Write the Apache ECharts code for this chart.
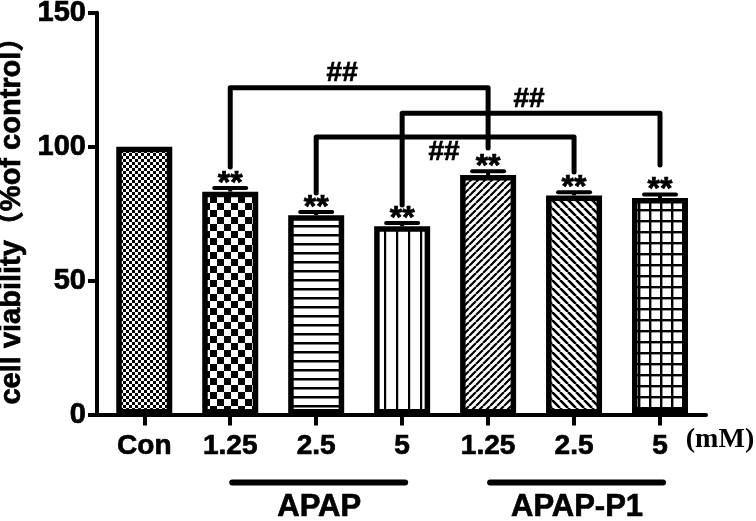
<!DOCTYPE html>
<html><head><meta charset="utf-8">
<script src="https://cdn.jsdelivr.net/npm/echarts@6/dist/echarts.min.js"></script>
<style>html,body{margin:0;padding:0;background:#fff}#c{width:756px;height:521px}</style>
</head><body><div id="c"></div>
<script>
// ---- data ----
const categories = ['Con', '1.25', '2.5', '5', '1.25', '2.5', '5'];
const viability = [100, 83.2, 74.4, 70.3, 89.4, 81.8, 80.8];
const sem = [0, 1.4, 1.2, 1.2, 1.4, 1.2, 1.3];
const sigMarks = ['', '**', '**', '**', '**', '**', '**'];
const groupNames = ['APAP', 'APAP-P1'];
const groupStart = [1, 4];
const groupEnd = [3, 6];
const bracketFrom = [1, 3, 2];
const bracketTo = [4, 6, 5];
const bracketLevel = [122, 112.5, 103.6];
const bracketFromEnd = [92.4, 78.2, 82.7];
const bracketToEnd = [99.5, 93.1, 90.5];
const bracketMarks = ['##', '##', '##'];
const yTicks = [0, 50, 100, 150];
const unitLabel = '(mM)';
const yTitle = 'cell viability（%of control）';

// ---- layout / style (not data) ----
const FONT = '"Liberation Sans", Arial, "Noto Sans CJK SC", sans-serif';
const BOLD = {color: '#000', fontWeight: 'bold', fontFamily: FONT, textBorderColor: '#000', textBorderWidth: 0.7};
const bracketLabelLayout = [{dx: -17, dy: -14}, {dx: -2, dy: -14}, {dx: -1, dy: 15}];

function makeTile(w, h, draw) {
  const c = document.createElement('canvas');
  c.width = w; c.height = h;
  const g = c.getContext('2d');
  g.fillStyle = '#fff'; g.fillRect(0, 0, w, h);
  g.fillStyle = '#000'; g.strokeStyle = '#000';
  draw(g, w, h);
  return c;
}
function diag(g, s, lw, dir) {
  g.lineWidth = lw;
  g.beginPath();
  for (let k = -1; k <= 1; k++) {
    if (dir > 0) { g.moveTo(k * s, s); g.lineTo(k * s + s, 0); }
    else { g.moveTo(k * s, 0); g.lineTo(k * s + s, s); }
  }
  g.stroke();
}
const tiles = [
  makeTile(6, 6, g => { g.fillRect(0, 0, 3, 3); g.fillRect(3, 3, 3, 3); }),
  makeTile(14, 14, g => { g.fillRect(0, 0, 7, 7); g.fillRect(7, 7, 7, 7); }),
  makeTile(9, 9, g => { g.fillRect(0, 0, 9, 2.5); }),
  makeTile(12, 12, g => { g.fillRect(0, 0, 2.2, 12); }),
  makeTile(7, 7, (g, w) => diag(g, w, 2.2, 1)),
  makeTile(8, 8, (g, w) => diag(g, w, 2.6, -1)),
  makeTile(11, 11, g => { g.fillRect(0, 0, 11, 2.4); g.fillRect(0, 0, 2.4, 11); })
];

const idx = categories.map((c, i) => i);
const txt = (text, x, y, size) => ({type: 'text', x, y, style: {text, align: 'center', verticalAlign: 'middle',
  fill: '#000', fontSize: size, fontWeight: 'bold', fontFamily: FONT, stroke: '#000', lineWidth: 0.7}});

const chart = echarts.init(document.getElementById('c'), null, {renderer: 'canvas'});
chart.setOption({
  animation: false,
  backgroundColor: '#fff',
  grid: {left: 97, right: 50, top: 12.7, bottom: 106.5, containLabel: false, outerBoundsMode: 'none'},
  xAxis: {
    type: 'value', min: -0.55, max: 6.535,
    splitLine: {show: false},
    axisLine: {show: true, onZero: false, lineStyle: {color: '#000', width: 4}},
    axisTick: {show: true, customValues: idx, length: 11, lineStyle: {color: '#000', width: 4}},
    axisLabel: Object.assign({customValues: idx, formatter: v => categories[Math.round(v)], margin: 18, fontSize: 28}, BOLD),
    name: unitLabel, nameLocation: 'end', nameGap: 14,
    nameTextStyle: {color: '#000', fontSize: 28, fontWeight: 'bold', fontFamily: '"Liberation Serif", "Times New Roman", serif',
      align: 'center', verticalAlign: 'top', padding: [11, 0, 0, 0]}
  },
  yAxis: {
    type: 'value', min: yTicks[0], max: yTicks[yTicks.length - 1], interval: yTicks[1] - yTicks[0],
    splitLine: {show: false},
    axisLine: {show: true, onZero: false, lineStyle: {color: '#000', width: 4}},
    axisTick: {show: true, length: 9, lineStyle: {color: '#000', width: 4}},
    axisLabel: Object.assign({margin: 11, fontSize: 29}, BOLD),
    name: yTitle, nameLocation: 'middle', nameGap: 61, nameRotate: 90,
    nameTextStyle: Object.assign({fontSize: 29}, BOLD)
  },
  series: [
    {
      type: 'bar', barWidth: 56,
      data: viability.map((v, i) => ({value: [i, v], itemStyle: {color: {image: tiles[i], repeat: 'repeat'}}})),
      itemStyle: {borderColor: '#000', borderWidth: 5.5},
      z: 2
    },
    {
      type: 'custom', clip: false, z: 3,
      encode: {x: 0, y: [1, 2]},
      data: viability.map((v, i) => [i, v, sem[i]]),
      renderItem: (params, api) => {
        const i = params.dataIndex;
        const x = api.value(0), v = api.value(1), e = api.value(2);
        const p0 = api.coord([x, v]);
        const p1 = api.coord([x, v + e]);
        const children = [];
        if (e > 0) {
          children.push({type: 'line', shape: {x1: p0[0], y1: p0[1], x2: p1[0], y2: p1[1]}, style: {stroke: '#000', lineWidth: 4}});
          children.push({type: 'line', shape: {x1: p1[0] - 16, y1: p1[1], x2: p1[0] + 16, y2: p1[1]}, style: {stroke: '#000', lineWidth: 4, lineCap: 'round'}});
        }
        if (sigMarks[i]) children.push(txt(sigMarks[i], p1[0], p1[1] - 4, 32));
        return {type: 'group', children};
      }
    },
    {
      type: 'custom', clip: false, z: 4,
      encode: {x: [0, 1], y: [2, 3, 4]},
      data: bracketFrom.map((f, i) => [f, bracketTo[i], bracketLevel[i], bracketFromEnd[i], bracketToEnd[i]]),
      renderItem: (params, api) => {
        const i = params.dataIndex;
        const f = api.value(0), t = api.value(1), lv = api.value(2), fe = api.value(3), te = api.value(4);
        const a = api.coord([f, lv]), b = api.coord([t, lv]);
        const a2 = api.coord([f, fe]), b2 = api.coord([t, te]);
        const L = bracketLabelLayout[i];
        return {type: 'group', children: [
          {type: 'polyline', shape: {points: [a2, a, b, b2]}, style: {stroke: '#000', lineWidth: 5, lineCap: 'round', lineJoin: 'round', fill: null}},
          txt(bracketMarks[i], (a[0] + b[0]) / 2 + L.dx, a[1] + L.dy, 28)
        ]};
      }
    },
    {
      type: 'custom', clip: false, z: 4,
      encode: {x: [0, 1]},
      data: groupStart.map((s, i) => [s, groupEnd[i]]),
      renderItem: (params, api) => {
        const i = params.dataIndex;
        const a = api.coord([api.value(0), 0]), b = api.coord([api.value(1), 0]);
        return {type: 'group', children: [
          {type: 'line', shape: {x1: a[0] + 2, y1: a[1] + 68, x2: b[0] + 3, y2: a[1] + 68}, style: {stroke: '#000', lineWidth: 6, lineCap: 'round'}},
          txt(groupNames[i], (a[0] + b[0]) / 2 + 3, a[1] + 93, 31)
        ]};
      }
    }
  ]
});
</script></body></html>
